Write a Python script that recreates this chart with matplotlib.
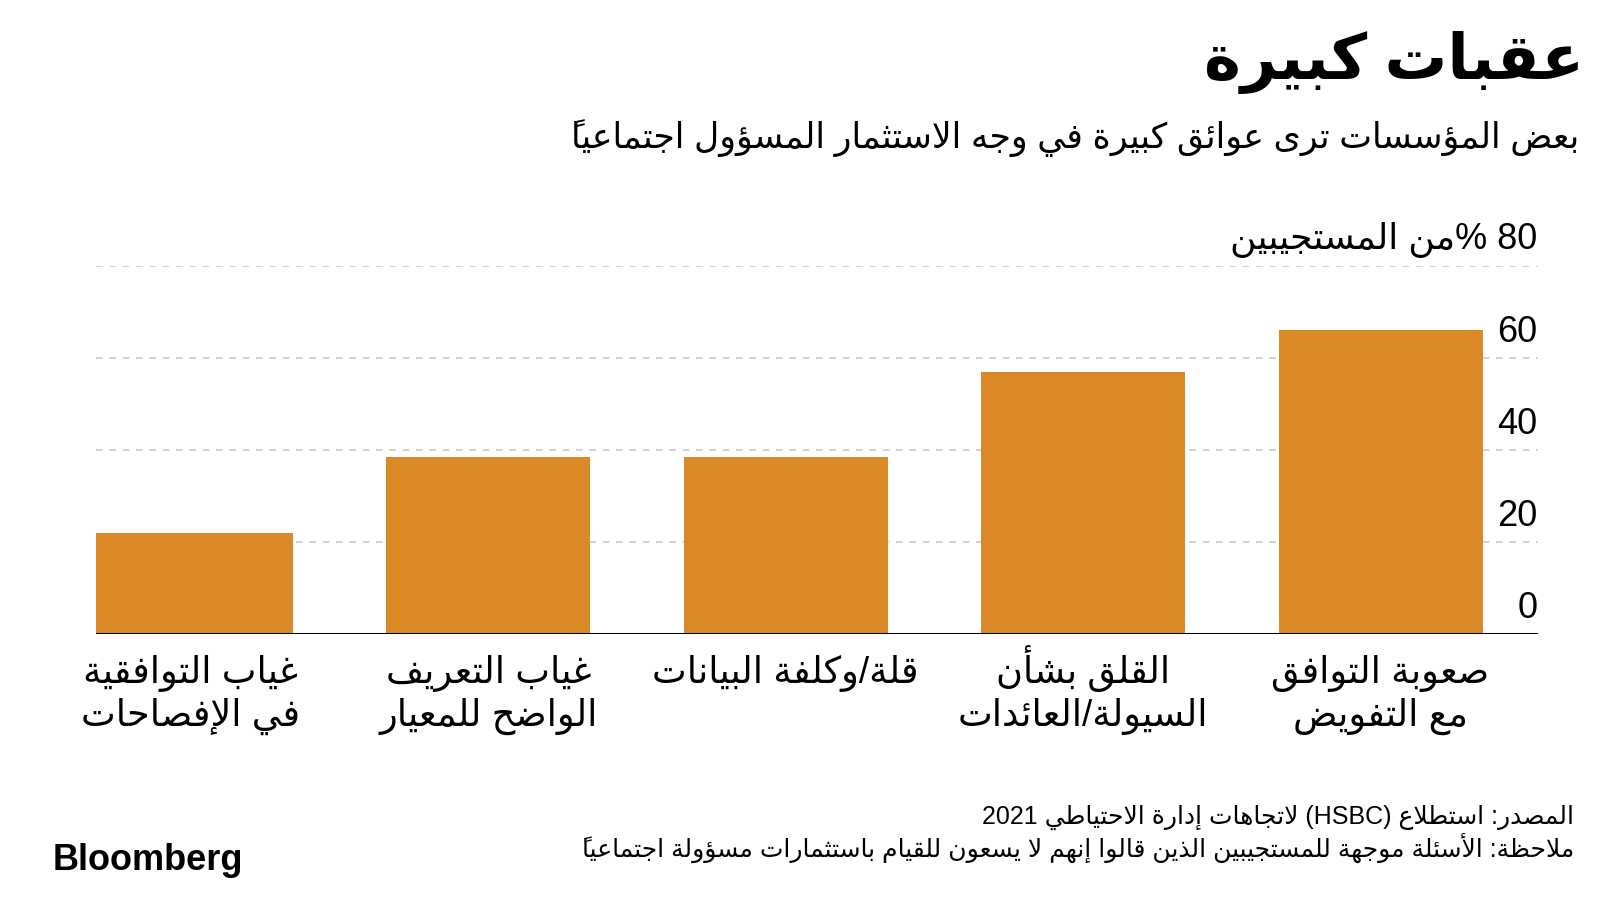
""" Gráfica de barras: عقبات كبيرة (Bloomberg). """

import matplotlib
matplotlib.use("Agg")
import matplotlib.pyplot as plt

plt.rcParams['font.family'] = ['Liberation Sans', 'DejaVu Sans']

# Datos (en el orden de lectura árabe, de derecha a izquierda)
categorias = [
    'صعوبة التوافق\nمع التفويض',
    'القلق بشأن\nالسيولة/العائدات',
    'قلة/وكلفة البيانات',
    'غياب التعريف\nالواضح للمعيار',
    'غياب التوافقية\nفي الإفصاحات',
]
valores = [66, 57, 38.5, 38.5, 22]
yticks = [0, 20, 40, 60, 80]
ytick_labels = ['0', '20', '40', '60', '80 %من المستجيبين']

titulo = 'عقبات كبيرة'
subtitulo = 'بعض المؤسسات ترى عوائق كبيرة في وجه الاستثمار المسؤول اجتماعياً'
fuente = 'المصدر: استطلاع (HSBC) لاتجاهات إدارة الاحتياطي 2021'
nota = 'ملاحظة: الأسئلة موجهة للمستجيبين الذين قالوا إنهم لا يسعون للقيام باستثمارات مسؤولة اجتماعياً'

color_barra = '#d98a27'

# --- Formas contextuales del árabe (matplotlib no hace "shaping") ---
# letra -> (forma aislada en Presentation Forms-B, número de formas)
FORMAS = {
    'ء': (0xFE80, 1), 'آ': (0xFE81, 2), 'أ': (0xFE83, 2), 'ؤ': (0xFE85, 2),
    'إ': (0xFE87, 2), 'ئ': (0xFE89, 4), 'ا': (0xFE8D, 2), 'ب': (0xFE8F, 4),
    'ة': (0xFE93, 2), 'ت': (0xFE95, 4), 'ث': (0xFE99, 4), 'ج': (0xFE9D, 4),
    'ح': (0xFEA1, 4), 'خ': (0xFEA5, 4), 'د': (0xFEA9, 2), 'ذ': (0xFEAB, 2),
    'ر': (0xFEAD, 2), 'ز': (0xFEAF, 2), 'س': (0xFEB1, 4), 'ش': (0xFEB5, 4),
    'ص': (0xFEB9, 4), 'ض': (0xFEBD, 4), 'ط': (0xFEC1, 4), 'ظ': (0xFEC5, 4),
    'ع': (0xFEC9, 4), 'غ': (0xFECD, 4), 'ف': (0xFED1, 4), 'ق': (0xFED5, 4),
    'ك': (0xFED9, 4), 'ل': (0xFEDD, 4), 'م': (0xFEE1, 4), 'ن': (0xFEE5, 4),
    'ه': (0xFEE9, 4), 'و': (0xFEED, 2), 'ى': (0xFEEF, 2), 'ي': (0xFEF1, 4),
}
LAM_ALEF = {'آ': 0xFEF5, 'أ': 0xFEF7, 'إ': 0xFEF9, 'ا': 0xFEFB}
ESPEJO = {'(': ')', ')': '('}


def es_marca(c):
    return '\u064b' <= c <= '\u0652'


def n_formas(k):
    if len(k) == 2:  # lam-alef
        return 2
    return FORMAS.get(k, (0, 0))[1]


def dar_forma(linea):
    toks = []
    i = 0
    while i < len(linea):
        c = linea[i]
        if es_marca(c) and toks:
            toks[-1][1] += c
            i += 1
            continue
        if c == 'ل' and i + 1 < len(linea) and linea[i + 1] in LAM_ALEF:
            toks.append(['ل' + linea[i + 1], ''])
            i += 2
            continue
        toks.append([c, ''])
        i += 1

    grupos = []
    for k, (letra, marcas) in enumerate(toks):
        n = n_formas(letra)
        if n == 0:
            grupos.append(letra + marcas)
            continue
        ant = toks[k - 1][0] if k > 0 else None
        sig = toks[k + 1][0] if k + 1 < len(toks) else None
        une_ant = n > 1 and ant is not None and n_formas(ant) == 4
        une_sig = n == 4 and sig is not None and n_formas(sig) >= 2
        if len(letra) == 2:
            g = LAM_ALEF[letra[1]] + (1 if une_ant else 0)
        else:
            g = FORMAS[letra][0]
            if une_ant and une_sig:
                g += 3
            elif une_sig:
                g += 2
            elif une_ant:
                g += 1
        # la marca va antes para quedar encima de su letra al dibujar
        grupos.append(marcas + chr(g))
    return grupos


def visual(texto):
    lineas = []
    for linea in texto.split('\n'):
        grupos = dar_forma(linea)[::-1]
        res, tramo = [], []
        for g in grupos:
            if g[0].isascii() and g[0].isalnum():
                tramo.append(g)
            else:
                if tramo:
                    res.extend(tramo[::-1])
                    tramo = []
                res.append(ESPEJO.get(g, g))
        if tramo:
            res.extend(tramo[::-1])
        lineas.append(''.join(res))
    return '\n'.join(lineas)


# --- Figura ---
fig = plt.figure(figsize=(16, 9), dpi=100)
ax = fig.add_axes([0.06, 0.2956, 0.901, 0.4089])

x = list(range(len(categorias)))
ax.bar(x, valores, width=0.686, color=color_barra, zorder=2)

ax.set_xlim(4.319, -0.528)
ax.set_ylim(0, 80)

for v in yticks[1:]:
    ax.axhline(v, color='#cccccc', lw=1.2, ls=(0, (4, 4)), zorder=1)
ax.axhline(0, color='black', lw=2.2, zorder=3)

for s in ax.spines.values():
    s.set_visible(False)
ax.set_xticks([])
ax.set_yticks([])

# Etiquetas del eje y, encima de cada línea
for v, lab in zip(yticks, ytick_labels):
    ax.annotate(visual(lab), xy=(1.0, v), xycoords=ax.get_yaxis_transform(),
                xytext=(0, 6), textcoords='offset points',
                ha='right', va='bottom', fontsize=26)

# Etiquetas de categorías, una línea cada vez
for xi, cat in zip(x, categorias):
    for j, linea in enumerate(cat.split('\n')):
        ax.annotate(visual(linea), xy=(xi, 0), xycoords=ax.get_xaxis_transform(),
                    xytext=(0, -35 - 31 * j), textcoords='offset points',
                    ha='center', va='baseline', fontsize=26.5)

# Títulos
fig.text(0.99, 0.93, visual(titulo), ha='right', va='center',
         fontsize=45, fontweight='bold')
fig.text(0.987, 0.847, visual(subtitulo), ha='right', va='center', fontsize=25)

# Fuente y nota
fig.text(0.984, 0.092, visual(fuente), ha='right', va='center', fontsize=18)
fig.text(0.984, 0.058, visual(nota), ha='right', va='center', fontsize=18)
fig.text(0.033, 0.044, 'Bloomberg', ha='left', va='center',
         fontsize=26, fontweight='bold')

plt.savefig('out.png', dpi=100)
